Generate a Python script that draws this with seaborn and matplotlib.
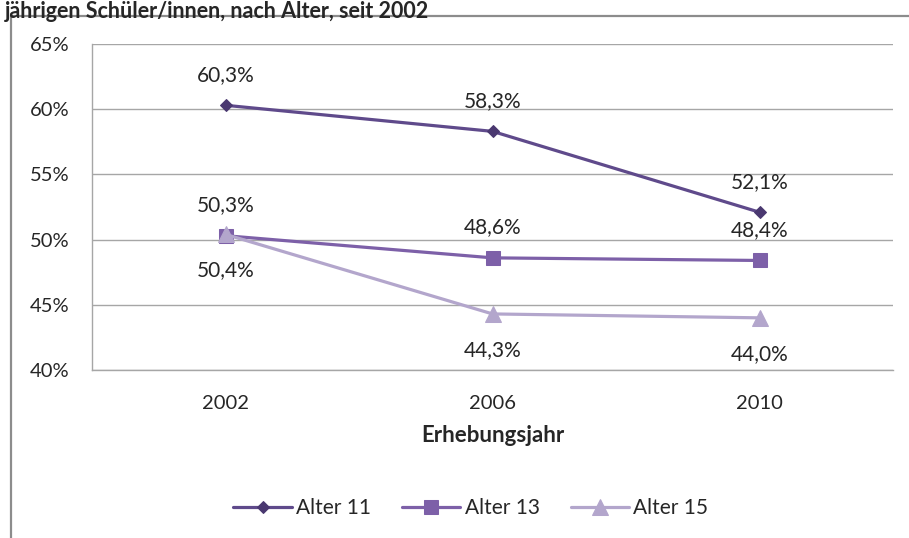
import matplotlib
matplotlib.use("Agg")
import matplotlib.pyplot as plt
from matplotlib.patches import Rectangle
from matplotlib.ticker import FuncFormatter
import seaborn as sns
import pandas as pd

years = ["2002", "2006", "2010"]
series_names = ["Alter 11", "Alter 13", "Alter 15"]
alter_11 = [60.3, 58.3, 52.1]
alter_13 = [50.3, 48.6, 48.4]
alter_15 = [50.4, 44.3, 44.0]
# label above (+1) or below (-1) the point
label_side = {"Alter 11": 1, "Alter 13": 1, "Alter 15": -1}
y_ticks = [40, 45, 50, 55, 60, 65]

df = pd.DataFrame({
    "Erhebungsjahr": years * 3,
    "Anteil": alter_11 + alter_13 + alter_15,
    "Gruppe": [n for n in series_names for _ in years],
})

sns.set_style("white")
plt.rcParams["font.family"] = ["Lato", "DejaVu Sans"]
plt.rcParams["font.size"] = 14

fig = plt.figure(figsize=(9.09, 5.38), dpi=100)
ax = fig.add_axes([92 / 909, 1 - 370 / 538, 801 / 909, 326 / 538])

styles = {
    "Alter 11": {"color": "#5f4a8b", "marker": "D", "markersize": 6.5,
                 "markeredgecolor": "#4a3870", "markerfacecolor": "#4a3870"},
    "Alter 13": {"color": "#7d60a8", "marker": "s", "markersize": 10.5,
                 "markeredgecolor": "#7d60a8"},
    "Alter 15": {"color": "#b3a6cc", "marker": "^", "markersize": 11,
                 "markeredgecolor": "#b3a6cc"},
}
offsets = {1: 22, -1: 26}

for name in series_names:
    sub = df[df["Gruppe"] == name]
    sns.lineplot(data=sub, x="Erhebungsjahr", y="Anteil", ax=ax,
                 label=name, linewidth=2.3, sort=False, **styles[name])
    for i, (xv, yv) in enumerate(zip(sub["Erhebungsjahr"], sub["Anteil"])):
        txt = f"{yv:.1f}%".replace(".", ",")
        side = label_side[name]
        ax.annotate(txt, (i, yv), xytext=(0, offsets[side] * side),
                    textcoords="offset points", ha="center", va="center",
                    fontsize=15, color="#262626")

ax.set_xlim(-0.5, 2.5)
ax.set_ylim(40, 65)
ax.set_yticks(y_ticks)
ax.yaxis.set_major_formatter(FuncFormatter(lambda v, p: f"{v:.0f}%"))
ax.grid(axis="y", color="#a6a6a6", linewidth=1)
ax.tick_params(axis="both", length=0, labelsize=14.5, labelcolor="#262626")
ax.tick_params(axis="y", pad=16)
ax.tick_params(axis="x", pad=18)
for s in ["top", "right"]:
    ax.spines[s].set_visible(False)
for s in ["left", "bottom"]:
    ax.spines[s].set_color("#a6a6a6")
    ax.spines[s].set_linewidth(1)
ax.set_xlabel("Erhebungsjahr", fontweight="bold", fontsize=16, labelpad=9)
ax.set_ylabel("")

handles, labels = ax.get_legend_handles_labels()
ax.legend_.remove()
fig.legend(handles, labels, loc="center", bbox_to_anchor=(0.518, 1 - 508 / 538),
           ncol=3, frameon=False, handlelength=2.8, handletextpad=0.2,
           columnspacing=1.5, fontsize=15)

# outer chart frame (only left and top visible in the crop)
fig.patches.append(Rectangle((11 / 909, -0.2), 2, 1.2 - 15.5 / 538,
                             transform=fig.transFigure, fill=False,
                             edgecolor="#8c8c8c", linewidth=1.6, clip_on=False))

fig.text(5 / 909, 1 - 0.5 / 538, "jährigen Schüler/innen, nach Alter, seit 2002",
         fontweight="bold", fontsize=15.5, va="top", ha="left")

fig.savefig("out.png", dpi=100)
